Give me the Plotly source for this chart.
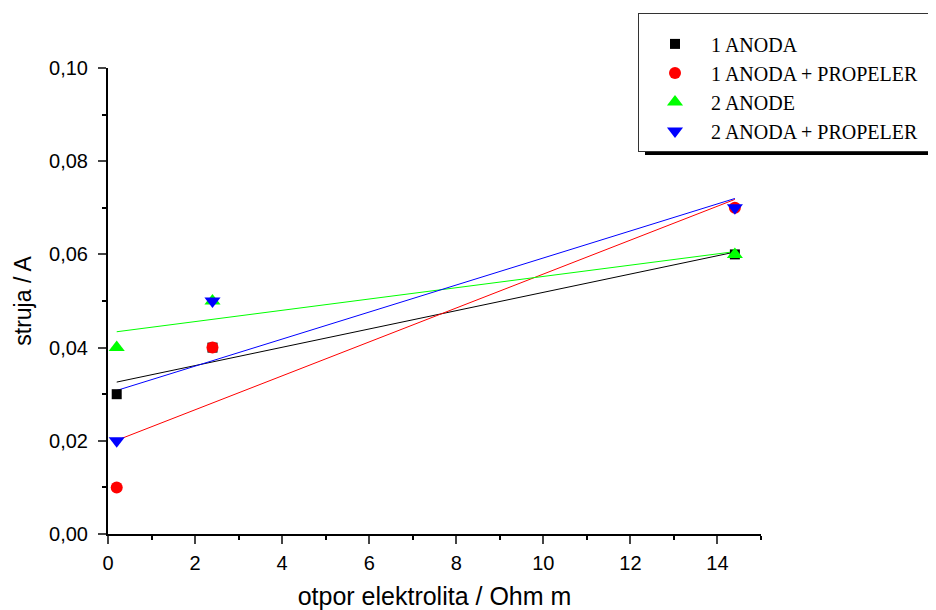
import plotly.graph_objects as go

# ---- data ----
resistance = [0.2, 2.4, 14.4]
series_names = ["1 ANODA", "1 ANODA + PROPELER", "2 ANODE", "2 ANODA + PROPELER"]
current_1_anoda = [0.03, 0.04, 0.06]
current_1_anoda_prop = [0.01, 0.04, 0.07]
current_2_anode = [0.04, 0.05, 0.06]
current_2_anoda_prop = [0.02, 0.05, 0.07]

# fitted line end points (x = 0.2 and x = 14.4)
fit_x = [0.2, 14.4]
fit_1_anoda = [0.0326, 0.0605]
fit_1_anoda_prop = [0.0201, 0.0718]
fit_2_anode = [0.0434, 0.0606]
fit_2_anoda_prop = [0.0308, 0.0720]

y_tick_vals = [0.0, 0.02, 0.04, 0.06, 0.08, 0.10]
y_tick_text = ["0,00", "0,02", "0,04", "0,06", "0,08", "0,10"]
x_tick_vals = [0, 2, 4, 6, 8, 10, 12, 14]

colors = ["#000000", "#ff0000", "#00ff00", "#0000ff"]
symbols = ["square", "circle", "triangle-up", "triangle-down"]
sizes = [10, 12, 14, 14]
values = [current_1_anoda, current_1_anoda_prop, current_2_anode, current_2_anoda_prop]
fits = [fit_1_anoda, fit_1_anoda_prop, fit_2_anode, fit_2_anoda_prop]

fig = go.Figure()
for c, f in zip(colors, fits):
    fig.add_trace(go.Scatter(x=fit_x, y=f, mode="lines", line=dict(color=c, width=1),
                             showlegend=False, hoverinfo="skip"))
for name, c, s, sz, v in zip(series_names, colors, symbols, sizes, values):
    # trailing non-breaking spaces only widen the legend box (it reaches the right edge)
    fig.add_trace(go.Scatter(x=resistance, y=v, mode="markers", name=name + "\u00a0" * 3,
                             marker=dict(color=c, symbol=s, size=sz, line=dict(width=0))))

# page body has an 8px margin: work in figure pixel coordinates
OFF = 8
W, H = 936 - OFF, 610 - OFF
L, R, T, B = 108 - OFF, 761 - OFF, 68 - OFF, 534 - OFF
def px(xp):
    return (xp - OFF - L) / (R - L)
def py(yp):
    return (B - (yp - OFF)) / (B - T)

tickfont = dict(family="Liberation Sans, Arial, sans-serif", size=20, color="black")
fig.update_layout(
    width=W, height=H,
    margin=dict(l=L, r=W - R, t=T, b=H - B, autoexpand=False),
    plot_bgcolor="white", paper_bgcolor="white",
    xaxis=dict(range=[0, 15], tickvals=x_tick_vals, ticks="outside", ticklen=8, tickwidth=2,
               showline=True, linecolor="black", linewidth=2, showgrid=False, zeroline=False,
               tickfont=tickfont, ticklabelstandoff=2,
               minor=dict(dtick=1, tick0=0, ticks="outside", ticklen=4, tickwidth=2, tickcolor="black", showgrid=False),
               title=dict(text="otpor elektrolita / Ohm m", standoff=19,
                          font=dict(family="Liberation Sans, Arial, sans-serif", size=25, color="black"))),
    yaxis=dict(range=[0, 0.10], tickvals=y_tick_vals, ticktext=y_tick_text, ticks="outside", ticklen=8,
               tickwidth=2, showline=True, linecolor="black", linewidth=2, showgrid=False, zeroline=False,
               tickfont=tickfont, ticklabelstandoff=6,
               minor=dict(dtick=0.01, tick0=0, ticks="outside", ticklen=4, tickwidth=2, tickcolor="black", showgrid=False),
               title=dict(text="struja / A", standoff=11,
                          font=dict(family="Liberation Sans, Arial, sans-serif", size=23, color="black"))),
    legend=dict(x=px(638), y=py(13), xanchor="left", yanchor="top",
                bgcolor="white", bordercolor="#333333", borderwidth=1,
                font=dict(family="Liberation Serif, Times New Roman, serif", size=20, color="black"),
                itemwidth=62, tracegroupgap=0,
                title=dict(text=" ", font=dict(size=8))),
    shapes=[dict(type="rect", xref="paper", yref="paper",
                 x0=px(645), x1=px(980), y0=py(155), y1=py(20),
                 fillcolor="black", line=dict(width=0), layer="above")],
    showlegend=True,
)
fig.write_html("out.html")
